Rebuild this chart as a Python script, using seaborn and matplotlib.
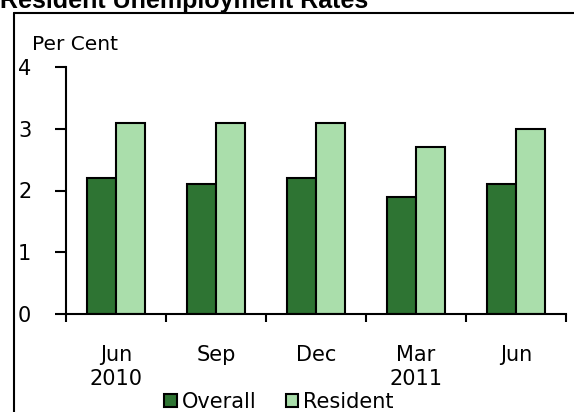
import numpy as np
import pandas as pd
import matplotlib
matplotlib.use("Agg")
import matplotlib.pyplot as plt
import seaborn as sb
from matplotlib.lines import Line2D

periods = ["Jun 2010", "Sep 2010", "Dec 2010", "Mar 2011", "Jun 2011"]
tick_labels = ["Jun\n2010", "Sep", "Dec", "Mar\n2011", "Jun"]
overall = [2.2, 2.1, 2.2, 1.9, 2.1]
resident = [3.1, 3.1, 3.1, 2.7, 3.0]
series = ["Overall", "Resident"]
colors = ["#2E7433", "#AADEAB"]

df = pd.DataFrame({
    "period": periods * 2,
    "rate": overall + resident,
    "series": [series[0]] * len(periods) + [series[1]] * len(periods),
})

sb.set_style("white", {"text.color": "black", "xtick.color": "black",
                       "ytick.color": "black", "axes.labelcolor": "black"})
plt.rcParams['font.family'] = ['DejaVu Sans']

fig = plt.figure(figsize=(5.74, 4.12), dpi=100)
ax = fig.add_axes([66/574, 98/412, 500/574, 247/412])

sb.barplot(data=df, x="period", y="rate", hue="series", order=periods,
           hue_order=series, palette=colors, saturation=1, width=0.58, gap=0,
           edgecolor="black", linewidth=1.5, ax=ax)

ax.set_xlim(-0.5, len(periods) - 0.5)
ax.set_ylim(0, 4)
ax.set_yticks([0, 1, 2, 3, 4])
ax.set_xticks(np.arange(len(periods)))
ax.set_xticklabels(tick_labels, fontsize=15, linespacing=1.3)
ax.set_xticks(np.arange(len(periods) + 1) - 0.5, minor=True)
ax.tick_params(axis="x", which="major", length=0, pad=22)
ax.tick_params(axis="x", which="minor", length=6, width=1.5, direction="out",
               bottom=True, color="black")
ax.tick_params(axis="y", length=8, width=1.5, direction="out", left=True,
               pad=17, labelsize=15, color="black")
ax.set_xlabel("")
ax.set_ylabel("")
for s in ["top", "right"]:
    ax.spines[s].set_visible(False)
for s in ["left", "bottom"]:
    ax.spines[s].set_linewidth(1.5)
    ax.spines[s].set_color("black")

handles, labels = ax.get_legend_handles_labels()
ax.get_legend().remove()
fig.legend(handles, labels, loc="center", bbox_to_anchor=(279/574, 1 - 402/412),
           ncol=2, frameon=False, fontsize=15, handlelength=0.6, handleheight=0.6,
           handletextpad=0.25, columnspacing=1.4, borderpad=0)

fig.text(32/574, 1 - 50/412, "Per Cent", fontsize=14.5, va="baseline")
fig.text(0, 1 - 8/412, "Resident Unemployment Rates", fontsize=18,
         fontweight="bold", family="Liberation Sans", va="baseline")

# outer frame (cut off at right and bottom)
fig.add_artist(Line2D([14/574, 14/574], [0, 1 - 13/412], transform=fig.transFigure,
                      color="black", linewidth=1.5))
fig.add_artist(Line2D([14/574, 1], [1 - 13/412, 1 - 13/412], transform=fig.transFigure,
                      color="black", linewidth=1.5))

fig.savefig("out.png", dpi=100)
